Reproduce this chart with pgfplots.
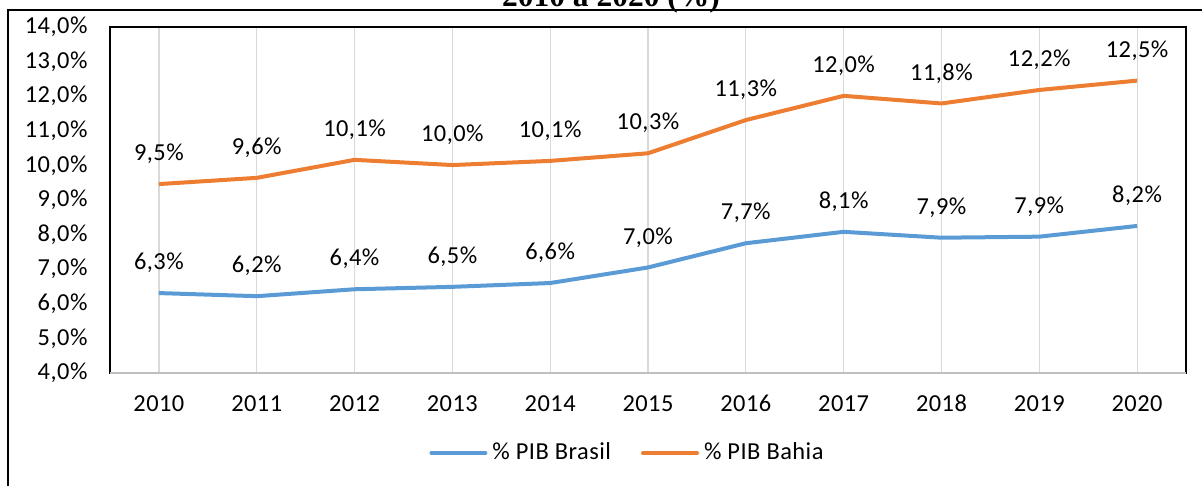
\documentclass[border=0pt]{standalone}
\usepackage{pgfplots}
\pgfplotsset{compat=1.18}
\usepackage{pgfplotstable}
\usepackage{fontspec}
\setmainfont[LetterSpace=2]{Carlito}
\newfontfamily\titlefont{Liberation Serif}
\definecolor{cblue}{HTML}{5B9BD5}
\definecolor{corange}{HTML}{ED7D31}
\definecolor{gridgray}{HTML}{D9D9D9}
\definecolor{axgray}{HTML}{BFBFBF}

\pgfplotstableread{
x y lab
0 6.31 6.3
1 6.22 6.2
2 6.42 6.4
3 6.49 6.5
4 6.60 6.6
5 7.05 7.0
6 7.75 7.7
7 8.08 8.1
8 7.91 7.9
9 7.94 7.9
10 8.25 8.2
}\brasil
\pgfplotstableread{
x y lab
0 9.46 9.5
1 9.64 9.6
2 10.16 10.1
3 10.01 10.0
4 10.13 10.1
5 10.35 10.3
6 11.31 11.3
7 12.01 12.0
8 11.79 11.8
9 12.18 12.2
10 12.45 12.5
}\bahia

\begin{document}
\begin{tikzpicture}
\fontsize{12.2}{14}\selectfont
\begin{axis}[
  at={(55pt,56.5pt)}, anchor=south west,
  scale only axis, width=538pt, height=173pt,
  xmin=-0.5, xmax=10.5, ymin=4, ymax=14,
  xtick={0,...,10},
  xticklabels={2010,2011,2012,2013,2014,2015,2016,2017,2018,2019,2020},
  ytick={4,5,...,14},
  /pgf/number format/assume math mode=true,
  yticklabel={\pgfmathprintnumber[fixed,fixed zerofill,precision=1,use comma]{\tick}\%},
  major tick length=0pt,
  xmajorgrids, major grid style={gridgray, line width=0.6pt},
  axis line style={black, line width=1.3pt},
  tick label style={font=\fontsize{12.2}{14}\selectfont},
  xticklabel style={anchor=base, yshift=-19.5pt},
  yticklabel style={xshift=-7pt},
  nodes near coords={\pgfmathprintnumber[fixed,fixed zerofill,precision=1,use comma]{\pgfplotspointmeta}\%},
  point meta=explicit,
  every node near coord/.append style={font=\fontsize{12.2}{14}\selectfont, black, anchor=base, yshift=11.7pt, inner sep=0pt},
  legend columns=2,
  legend style={at={(0.2965,-0.231)}, anchor=west, draw=none, fill=none,
    font=\fontsize{12.2}{14}\selectfont, inner sep=0pt,
    nodes={inner sep=0pt},
    /tikz/every even column/.append style={column sep=15pt},
    /tikz/every odd column/.append style={column sep=2.5pt}},
  legend image code/.code={\draw[#1, line width=2pt, line cap=round] (0pt,0pt) -- (27pt,0pt);},
  clip=false,
]
\addplot[cblue, line width=2pt, line join=round, mark=none] table[x=x, y=y, meta=lab] {\brasil};
\addlegendentry{\% PIB Brasil}
\addplot[corange, line width=2pt, line join=round, mark=none] table[x=x, y=y, meta=lab] {\bahia};
\addlegendentry{\% PIB Bahia}
\draw[axgray, line width=1pt] (rel axis cs:0,0) -- (rel axis cs:1,0);
\end{axis}
\draw[black, line width=1.2pt] (4pt,-5pt) -- (4pt,238pt) -- (610pt,238pt);
\node[font=\titlefont\bfseries\fontsize{15.75}{18}\selectfont, anchor=base, inner sep=0pt] at (305.5pt,239.5pt) {2010 a 2020 (\%)};
\pgfresetboundingbox
\useasboundingbox (0pt,0pt) rectangle (601pt,243pt);
\end{tikzpicture}
\end{document}
